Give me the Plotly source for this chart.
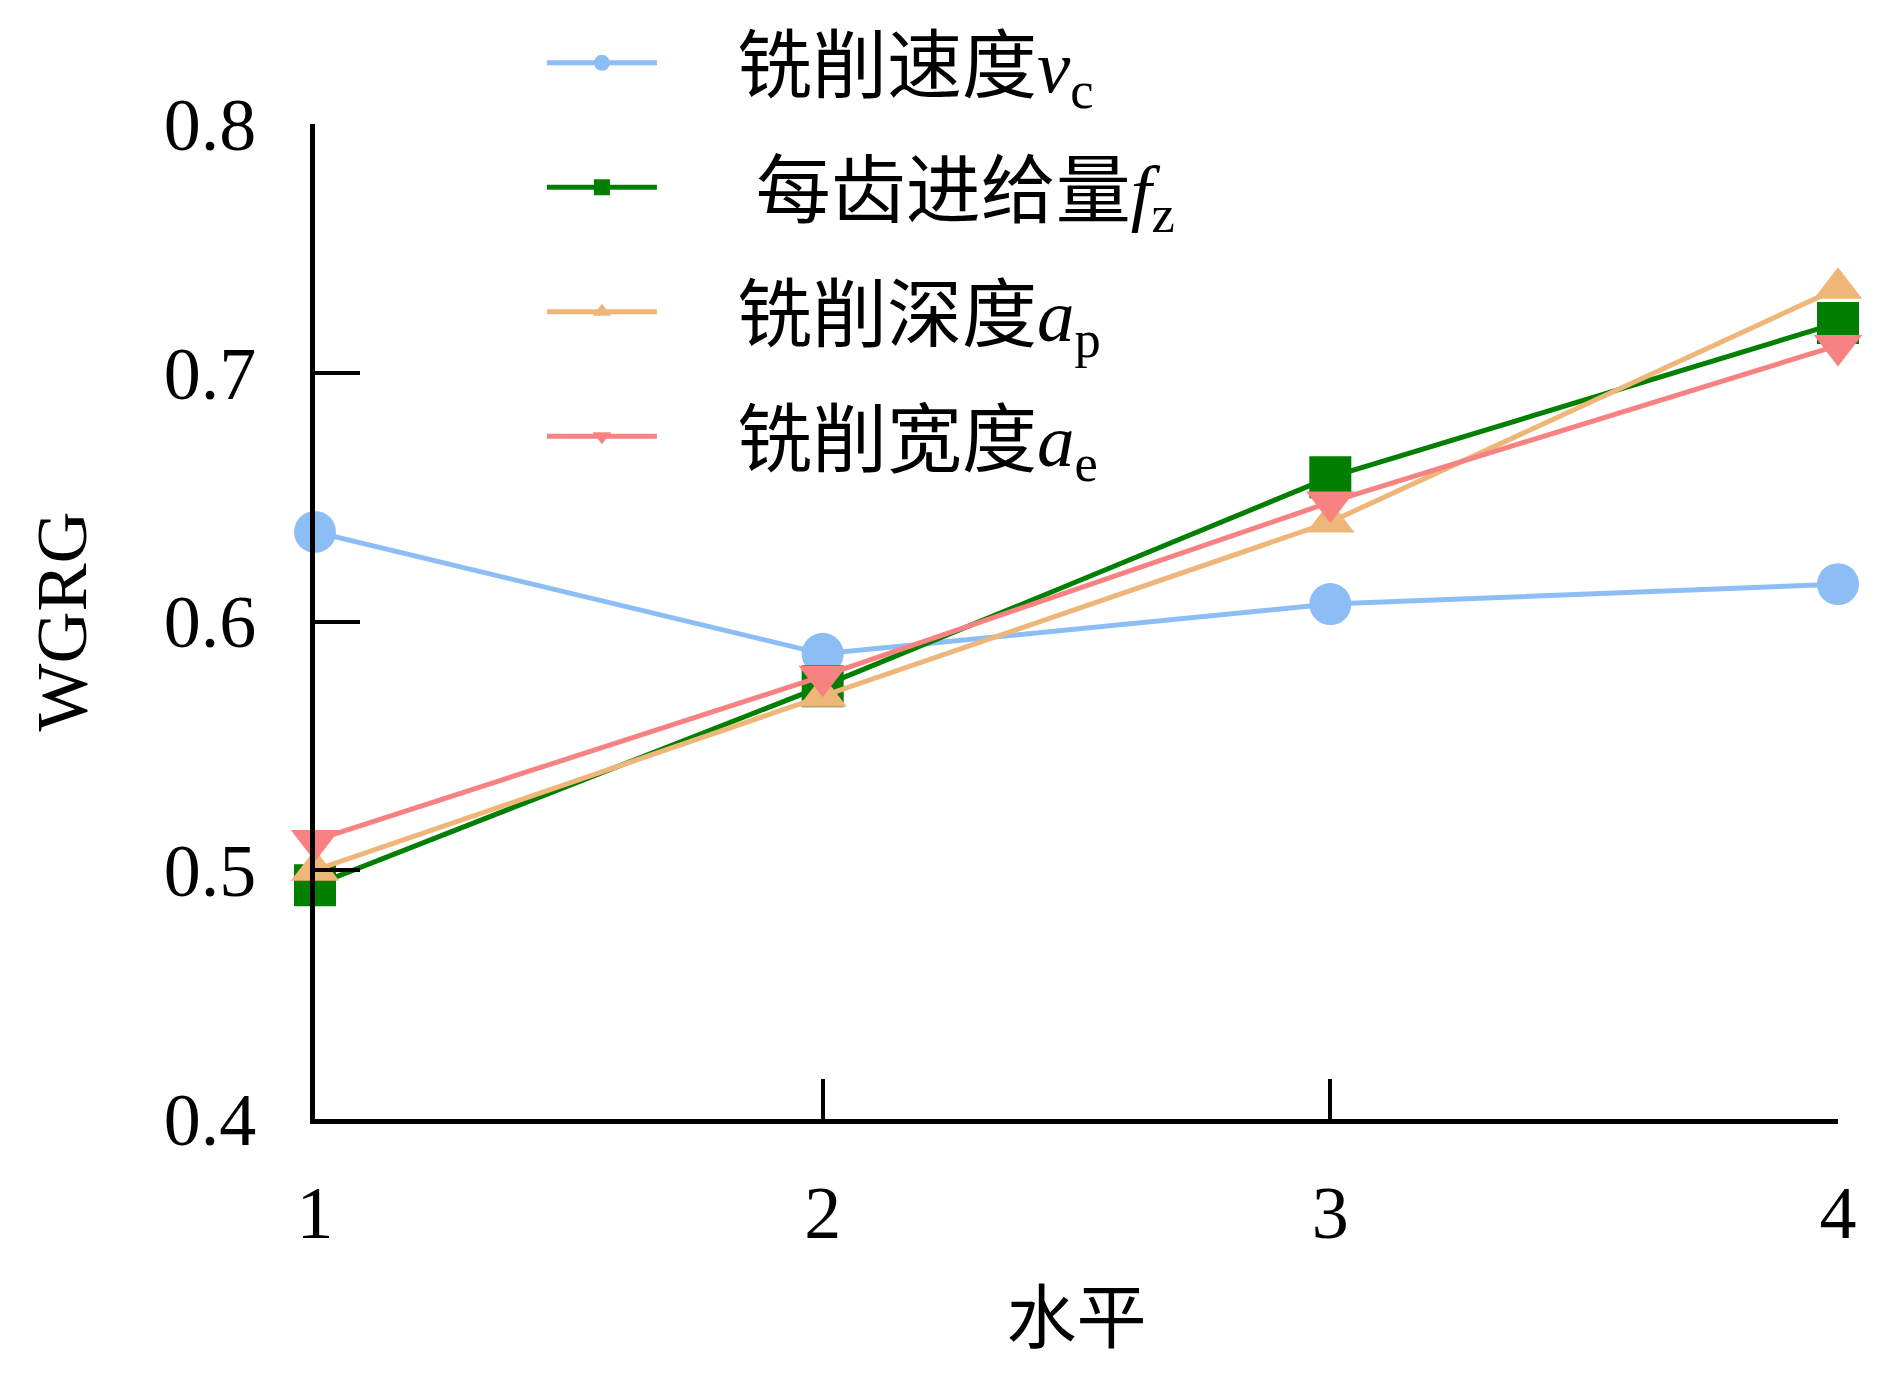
import plotly.graph_objects as go

levels = [1, 2, 3, 4]
vc = [0.636, 0.587, 0.607, 0.615]
fz = [0.494, 0.574, 0.658, 0.720]
ap = [0.500, 0.570, 0.640, 0.734]
ae = [0.512, 0.578, 0.648, 0.711]

gap = "\u00a0" * 4
series = [
    (gap + "铣削速度<i>v</i><sub>c</sub>", vc, "#8DBDF5", "circle"),
    (gap + "\u00a0每齿进给量<i>f</i><sub>z</sub>", fz, "#007F00", "square"),
    (gap + "铣削深度<i>a</i><sub>p</sub>", ap, "#EFB679", "triangle-up"),
    (gap + "铣削宽度<i>a</i><sub>e</sub>", ae, "#F88282", "triangle-down"),
]

FONT = "Liberation Serif, Times New Roman, Noto Sans CJK SC"

fig = go.Figure()
for i, (name, vals, color, sym) in enumerate(series):
    fig.add_trace(
        go.Scatter(
            x=levels,
            y=vals,
            mode="lines+markers",
            name=name,
            legendgroup=str(i),
            line=dict(color=color, width=5),
            marker=dict(symbol=sym, size=42, color=color),
            cliponaxis=False,
        )
    )

# page body adds an 8px offset, so the figure is a bit smaller than the window
fig.update_layout(
    width=1893,
    height=1383,
    margin=dict(l=307, r=63, t=116, b=272, autoexpand=False),
    plot_bgcolor="white",
    paper_bgcolor="white",
    font=dict(family=FONT, size=74, color="black"),
    legend=dict(
        x=0.149,
        y=1.117,
        xanchor="left",
        yanchor="top",
        traceorder="grouped",
        tracegroupgap=24,
        itemwidth=110,
        font=dict(family=FONT, size=75),
        bgcolor="rgba(0,0,0,0)",
    ),
)

fig.update_xaxes(
    range=[1, 4],
    tickvals=levels,
    automargin=False,
    showline=True,
    linecolor="black",
    linewidth=5,
    ticks="inside",
    ticklen=40,
    tickwidth=4,
    tickcolor="black",
    showgrid=False,
    zeroline=False,
    ticklabelstandoff=25,
    title=dict(text="水平", font=dict(size=70), standoff=43),
)

fig.update_yaxes(
    range=[0.4, 0.8],
    tickvals=[0.4, 0.5, 0.6, 0.7, 0.8],
    ticktext=["0.4", "0.5", "0.6", "0.7", "0.8"],
    automargin=False,
    showline=True,
    linecolor="black",
    linewidth=5,
    ticks="inside",
    ticklen=45,
    tickwidth=4,
    tickcolor="black",
    showgrid=False,
    zeroline=False,
    ticklabelstandoff=39,
    title=dict(text="WGRG", font=dict(size=72), standoff=55),
)

fig.write_html("out.html")
